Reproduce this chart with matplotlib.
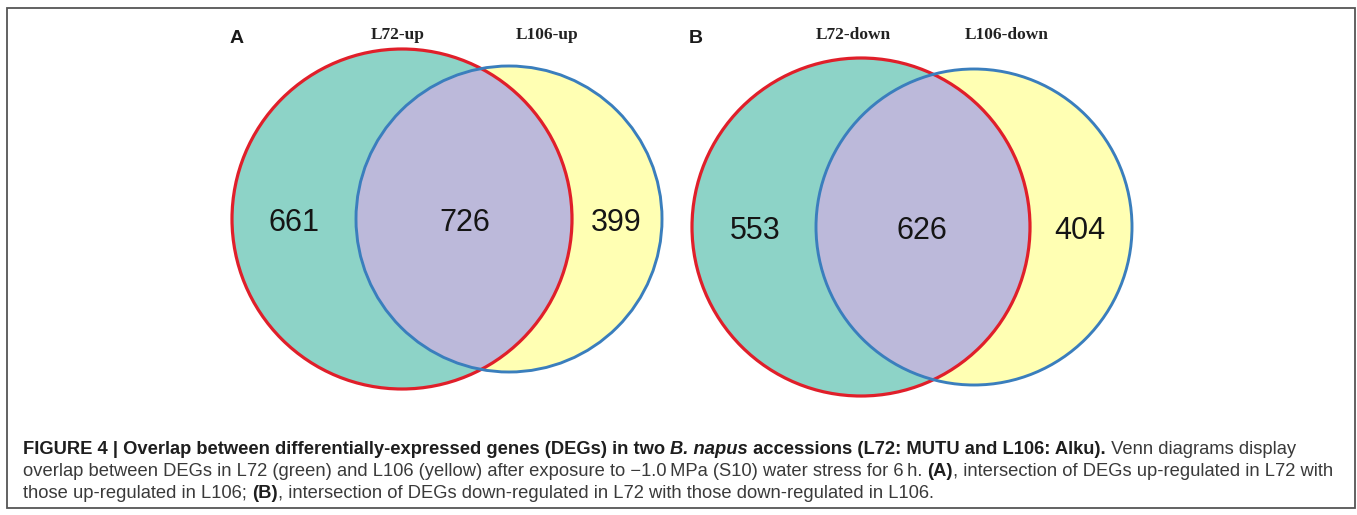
import matplotlib
matplotlib.use("Agg")
import matplotlib.pyplot as plt
from matplotlib.patches import Circle, Rectangle
from matplotlib.font_manager import FontProperties

# Venn counts: only-left, both, only-right
sets_a = ["L72-up", "L106-up"]
counts_a = [661, 726, 399]
sets_b = ["L72-down", "L106-down"]
counts_b = [553, 626, 404]
panels = ["A", "B"]

GREEN = "#8dd3c7"
YELLOW = "#ffffb3"
PURPLE = "#bcb9da"
RED = "#e01f2a"
BLUE = "#3a7ebd"

W, H = 1357, 515
fig = plt.figure(figsize=(W / 100, H / 100), dpi=100)
ax = fig.add_axes([0, 0, 1, 1])
ax.set_xlim(0, W)
ax.set_ylim(H, 0)
ax.axis("off")

ax.add_patch(Rectangle((7, 8), 1348, 500, fill=False, ec="#555555", lw=1.3))


def venn(cx, cy, r1, dx, r2, names, counts, letter, label_dx, num_x):
    c_left = Circle((cx, cy), r1, fc=GREEN, ec="none")
    c_right_bg = Circle((cx + dx, cy), r2, fc=YELLOW, ec="none")
    ax.add_patch(c_right_bg)
    ax.add_patch(c_left)
    mid = Circle((cx + dx, cy), r2, fc=PURPLE, ec="none")
    ax.add_patch(mid)
    mid.set_clip_path(c_left)
    ax.add_patch(Circle((cx, cy), r1, fill=False, ec=RED, lw=2.3))
    ax.add_patch(Circle((cx + dx, cy), r2, fill=False, ec=BLUE, lw=2.1))

    ax.text(cx - 165, 43, letter, fontsize=14, fontweight="bold",
            family="Liberation Sans", color="#1a1a1a", ha="center", va="baseline")
    for name, ldx in zip(names, label_dx):
        ax.text(cx + ldx, 39, name, fontsize=12.5, fontweight="bold",
                family="Liberation Serif", color="#222222", ha="center", va="baseline")
    for n, x in zip(counts, num_x):
        ax.text(cx + x, cy + 12, str(n), fontsize=22, family="Liberation Sans",
                color="#151515", ha="center", va="baseline")


venn(402, 219, 170, 107, 153, sets_a, counts_a, panels[0], (-4, 145), (-108, 63, 214))
venn(861, 227, 169, 113, 158, sets_b, counts_b, panels[1], (-8, 146), (-106, 61, 219))

# caption with mixed styles
CAP_FONT = ["Liberation Sans", "DejaVu Sans"]
CAP_SIZE = 13.2
renderer = fig.canvas.get_renderer()


def text_w(s, prop):
    w1 = renderer.get_text_width_height_descent("|" + s + "|", prop, False)[0]
    w0 = renderer.get_text_width_height_descent("||", prop, False)[0]
    return w1 - w0


def rich_line(x, y, parts):
    for s, weight, style in parts:
        prop = FontProperties(family=CAP_FONT, size=CAP_SIZE, weight=weight, style=style)
        col = "#1e1e1e" if weight == "bold" else "#3a3a3a"
        ax.text(x, y, s, fontproperties=prop, color=col, ha="left", va="baseline")
        x += text_w(s, prop)


caption = [
    [("FIGURE 4 | Overlap between differentially-expressed genes (DEGs) in two ", "bold", "normal"),
     ("B. napus", "bold", "italic"),
     (" accessions (L72: MUTU and L106: Alku).", "bold", "normal"),
     (" Venn diagrams display", "normal", "normal")],
    [("overlap between DEGs in L72 (green) and L106 (yellow) after exposure to \u22121.0\u2009MPa (S10) "
      "water stress for 6\u2009h. ", "normal", "normal"),
     ("(A)", "bold", "normal"),
     (", intersection of DEGs up-regulated in L72 with", "normal", "normal")],
    [("those up-regulated in L106; ", "normal", "normal"),
     ("(B)", "bold", "normal"),
     (", intersection of DEGs down-regulated in L72 with those down-regulated in L106.", "normal", "normal")],
]
for i, line in enumerate(caption):
    rich_line(23, 454 + 22 * i, line)

fig.savefig("out.png", dpi=100)
